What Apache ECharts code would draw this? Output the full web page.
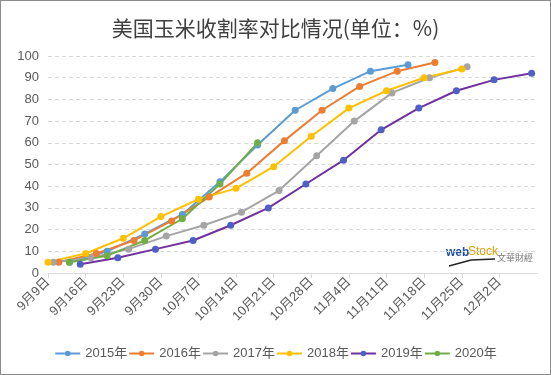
<!DOCTYPE html>
<html>
<head>
<meta charset="utf-8">
<script src="https://cdn.jsdelivr.net/npm/echarts@6/dist/echarts.min.js"></script>
<style>
  html, body { margin: 0; padding: 0; background: #fff; }
  #frame { width: 551px; height: 375px; box-sizing: border-box; border: 1px solid #8c8c8c; }
  #chart { width: 549px; height: 373px; }
</style>
</head>
<body>
<div id="frame"><div id="chart"></div></div>
<script>
// harvest progress (%) by week, dates are placed on a common 9/9 - 12/9 axis
var dates2015 = ['9/13', '9/20', '9/27', '10/4', '10/11', '10/18', '10/25', '11/1', '11/8', '11/15']
var values2015 = [5, 10, 18, 27, 42, 59, 75, 85, 93, 96]

var dates2016 = ['9/11', '9/18', '9/25', '10/2', '10/9', '10/16', '10/23', '10/30', '11/6', '11/13', '11/20']
var values2016 = [5, 9, 15, 24, 35, 46, 61, 75, 86, 93, 97]

var dates2017 = ['9/10', '9/17', '9/24', '10/1', '10/8', '10/15', '10/22', '10/29', '11/5', '11/12', '11/19', '11/26']
var values2017 = [5, 7, 11, 17, 22, 28, 38, 54, 70, 83, 90, 95]

var dates2018 = ['9/9', '9/16', '9/23', '9/30', '10/7', '10/14', '10/21', '10/28', '11/4', '11/11', '11/18', '11/25']
var values2018 = [5, 9, 16, 26, 34, 39, 49, 63, 76, 84, 90, 94]

var dates2019 = ['9/15', '9/22', '9/29', '10/6', '10/13', '10/20', '10/27', '11/3', '11/10', '11/17', '11/24', '12/1', '12/8']
var values2019 = [4, 7, 11, 15, 22, 30, 41, 52, 66, 76, 84, 89, 92]

var dates2020 = ['9/13', '9/20', '9/27', '10/4', '10/11', '10/18']
var values2020 = [5, 8, 15, 25, 41, 60]

var axisStart = '9/9'
var axisEnd = '12/9'

// day offset from 9/9
function dayOf(s) {
  var p = s.split('/')
  var d = new Date(2019, +p[0] - 1, +p[1])
  var d0 = new Date(2019, 8, 9)
  return Math.round((d - d0) / 86400000)
}
function pairs(dates, values) {
  return dates.map(function (d, i) { return [dayOf(d), values[i]] })
}
function dayLabel(n) {
  var d = new Date(2019, 8, 9 + n)
  return (d.getMonth() + 1) + '月' + d.getDate() + '日'
}

var textColor = '#595959'
var font = 'Liberation Sans, Noto Sans CJK SC, sans-serif'

function makeSeries(name, dates, values, color, markColor) {
  return {
    name: name,
    type: 'line',
    data: pairs(dates, values),
    symbol: 'circle',
    symbolSize: 7,
    lineStyle: { width: 2, color: color },
    itemStyle: { color: markColor || color },
    emphasis: { disabled: true }
  }
}

var chart = echarts.init(document.getElementById('chart'))
chart.setOption({
  animation: false,
  title: {
    text: '美国玉米收割率对比情况(单位：%)',
    left: 'center',
    top: 12,
    textStyle: { fontSize: 21, fontWeight: 'normal', color: '#404040', fontFamily: 'Noto Sans CJK SC, sans-serif' }
  },
  legend: {
    bottom: 9,
    left: 'center',
    itemWidth: 25,
    itemHeight: 7,
    itemGap: 1,
    textStyle: { fontSize: 13, color: textColor, fontFamily: font },
    data: ['2015年', '2016年', '2017年', '2018年', '2019年', '2020年']
  },
  grid: { left: 47, right: 13, top: 55, bottom: 101 },
  xAxis: {
    type: 'value',
    min: dayOf(axisStart),
    max: dayOf(axisEnd),
    interval: 7,
    axisLine: { lineStyle: { color: '#d9d9d9' } },
    axisTick: { show: true, length: 5, lineStyle: { color: '#d9d9d9' } },
    splitLine: { show: false },
    axisLabel: {
      rotate: 45,
      margin: 7,
      fontSize: 13,
      color: textColor,
      fontFamily: font,
      showMaxLabel: false,
      formatter: function (v) { return dayLabel(v) }
    }
  },
  yAxis: {
    type: 'value',
    min: 0,
    max: 100,
    interval: 10,
    axisLine: { show: false },
    axisTick: { show: false },
    splitLine: { lineStyle: { color: '#d9d9d9', type: [4, 3] } },
    axisLabel: { fontSize: 13, color: textColor, margin: 9, fontFamily: font }
  },
  graphic: [
    { type: 'text', left: 445, top: 246, style: { text: 'web', fill: '#1f4e9c', font: 'bold 12px Liberation Sans' } },
    { type: 'text', left: 467, top: 245, style: { text: 'Stock', fill: '#e0a000', font: '12px Liberation Sans' } },
    { type: 'text', left: 496, top: 252, style: { text: '文華財經', fill: '#777', font: '9px Noto Sans CJK TC' } },
    { type: 'polyline', shape: { points: [[448, 265], [470, 259], [494, 258]] }, style: { stroke: '#222', lineWidth: 1.5, fill: null } }
  ],
  series: [
    makeSeries('2015年', dates2015, values2015, '#5B9BD5'),
    makeSeries('2016年', dates2016, values2016, '#ED7D31'),
    makeSeries('2017年', dates2017, values2017, '#A5A5A5'),
    makeSeries('2018年', dates2018, values2018, '#FFC000'),
    makeSeries('2019年', dates2019, values2019, '#7030A0', '#4F5FC4'),
    makeSeries('2020年', dates2020, values2020, '#70AD47')
  ]
})
</script>
</body>
</html>
